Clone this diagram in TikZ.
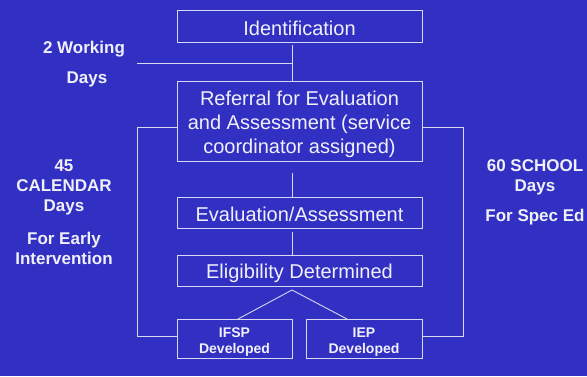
\documentclass[tikz,border=0pt]{standalone}
\usepackage{fontspec}
\setmainfont{Liberation Sans}
\definecolor{bgblue}{RGB}{50,48,194}
\definecolor{linecol}{RGB}{215,215,240}
\definecolor{txtcol}{RGB}{240,240,250}
\newcommand{\lowr}[2]{\raisebox{-#1}[\height][\depth]{\begin{tabular}{@{}c@{}}#2\end{tabular}}}
\begin{document}
\begin{tikzpicture}[x=1pt,y=-1pt,
  box/.style={draw=linecol,line width=0.9pt,inner sep=0pt,text=txtcol,align=center,
     font=\fontsize{20}{24}\selectfont},
  smallbox/.style={box,font=\bfseries\fontsize{14}{16}\selectfont},
  lbl/.style={text=txtcol,align=center,font=\bfseries\fontsize{17}{20}\selectfont},
  conn/.style={draw=linecol,line width=0.9pt}]
\fill[bgblue] (0,0) rectangle (587,376);
\useasboundingbox (0,0) rectangle (587,376);
\node[box,minimum width=245pt,minimum height=32pt] (ident) at (299.5,26) {\lowr{5pt}{Identification}};
\node[box,minimum width=245pt,minimum height=80pt] (ref) at (299.5,121) {\lowr{3.5pt}{Referral for Evaluation\\and Assessment (service\\coordinator assigned)}};
\node[box,minimum width=245pt,minimum height=31pt] (eval) at (299.5,212.5) {\lowr{4.5pt}{Evaluation/Assessment}};
\node[box,minimum width=245pt,minimum height=31pt] (elig) at (299.5,270.5) {\lowr{3.5pt}{Eligibility Determined}};
\node[smallbox,minimum width=115pt,minimum height=39pt] (ifsp) at (234.5,338.5) {\lowr{4pt}{IFSP\\Developed}};
\node[smallbox,minimum width=116pt,minimum height=39pt] (iep) at (364,338.5) {\lowr{4pt}{IEP\\Developed}};
% connectors
\coordinate (c1) at (292,45);
\coordinate (c1b) at (292,81);
\coordinate (c1m) at (292,63);
\coordinate (wd) at (137,63);
\coordinate (c2) at (292,173);
\coordinate (c2b) at (292,197);
\coordinate (c3) at (292,232);
\coordinate (c3b) at (292,255);
\coordinate (apex) at (292,290);
\coordinate (ifspt) at (238,319);
\coordinate (iept) at (347,319);
\coordinate (lb1) at (137,127);
\coordinate (lb2) at (137,336.5);
\coordinate (rb1) at (463,127);
\coordinate (rb2) at (463,336.5);
\draw[conn] (c1) -- (c1b);
\draw[conn] (wd) -- (c1m);
\draw[conn] (c2) -- (c2b);
\draw[conn] (c3) -- (c3b);
\draw[conn] (ifspt) -- (apex) -- (iept);
\draw[conn] (ref.west |- lb1) -- (lb1) -- (lb2) -- (ifsp.west |- lb2);
\draw[conn] (ref.east |- rb1) -- (rb1) -- (rb2) -- (iep.east |- rb2);
% labels
\node[lbl] (l2a) at (84,49) {2 Working};
\node[lbl] (l2b) at (87,79) {Days};
\node[lbl] (l45) at (64,187) {45\\CALENDAR\\Days};
\node[lbl] (lei) at (64,248) {For Early\\Intervention};
\node[lbl] (l60) at (535,177) {60 SCHOOL\\Days};
\node[lbl] (lse) at (535,217) {For Spec Ed};
\end{tikzpicture}
\end{document}
